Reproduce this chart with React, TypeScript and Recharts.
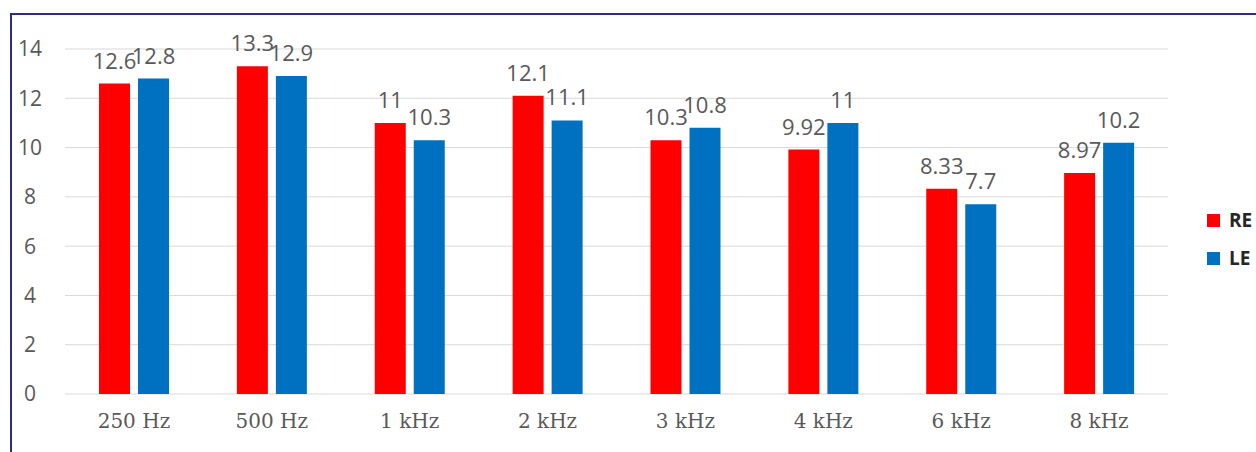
import { Bar, BarChart, CartesianGrid, LabelList, XAxis, YAxis } from "recharts";

const frequencies = ["250 Hz", "500 Hz", "1 kHz", "2 kHz", "3 kHz", "4 kHz", "6 kHz", "8 kHz"];
const rightEar = [12.6, 13.3, 11, 12.1, 10.3, 9.92, 8.33, 8.97];
const leftEar = [12.8, 12.9, 10.3, 11.1, 10.8, 11, 7.7, 10.2];
const yTicks = [0, 2, 4, 6, 8, 10, 12, 14];

const RED = "#ff0000";
const BLUE = "#0070c0";
const GREY = "#595959";

const data = frequencies.map((f, i) => ({ freq: f, RE: rightEar[i], LE: leftEar[i] }));

const series = [
  { key: "RE", color: RED },
  { key: "LE", color: BLUE },
];

export default function App() {
  return (
    <div
      style={{
        position: "absolute",
        left: 0,
        top: 0,
        width: 1256,
        height: 452,
        overflow: "hidden",
        background: "#fff",
      }}
    >
      <div
        style={{
          position: "absolute",
          left: 10,
          top: 13,
          width: 1400,
          height: 600,
          borderTop: "2px solid #2f2a86",
          borderLeft: "2px solid #2f2a86",
        }}
      />
      <BarChart
        width={1256}
        height={452}
        data={data}
        margin={{ top: 49, right: 88, left: 0, bottom: 0 }}
        barSize={31}
        barGap={8}
      >
        <CartesianGrid stroke="#d9d9d9" vertical={false} />
        <XAxis
          dataKey="freq"
          axisLine={false}
          tickLine={false}
          height={58}
          tick={{ fill: GREY, fontSize: 20, fontFamily: "DejaVu Serif" }}
          dy={12}
        />
        <YAxis
          domain={[0, 14]}
          ticks={yTicks}
          axisLine={false}
          tickLine={false}
          width={65}
          tick={{ fill: GREY, fontSize: 21, fontFamily: "Open Sans", textAnchor: "middle" }}
          dx={-27}
        />
        {series.map((s) => (
          <Bar key={s.key} dataKey={s.key} fill={s.color} isAnimationActive={false}>
            <LabelList
              dataKey={s.key}
              position="top"
              offset={15}
              fill={GREY}
              fontSize={22}
              fontFamily="Open Sans"
            />
          </Bar>
        ))}
      </BarChart>
      <div
        style={{
          position: "absolute",
          left: 1207,
          top: 201,
          fontFamily: "Open Sans",
          fontWeight: 700,
          fontSize: 19,
          color: "#262626",
        }}
      >
        {series.map((s) => (
          <div key={s.key} style={{ display: "flex", alignItems: "center", height: 38 }}>
            <span style={{ width: 13, height: 13, background: s.color, marginRight: 9 }} />
            <span>{s.key}</span>
          </div>
        ))}
      </div>
    </div>
  );
}
